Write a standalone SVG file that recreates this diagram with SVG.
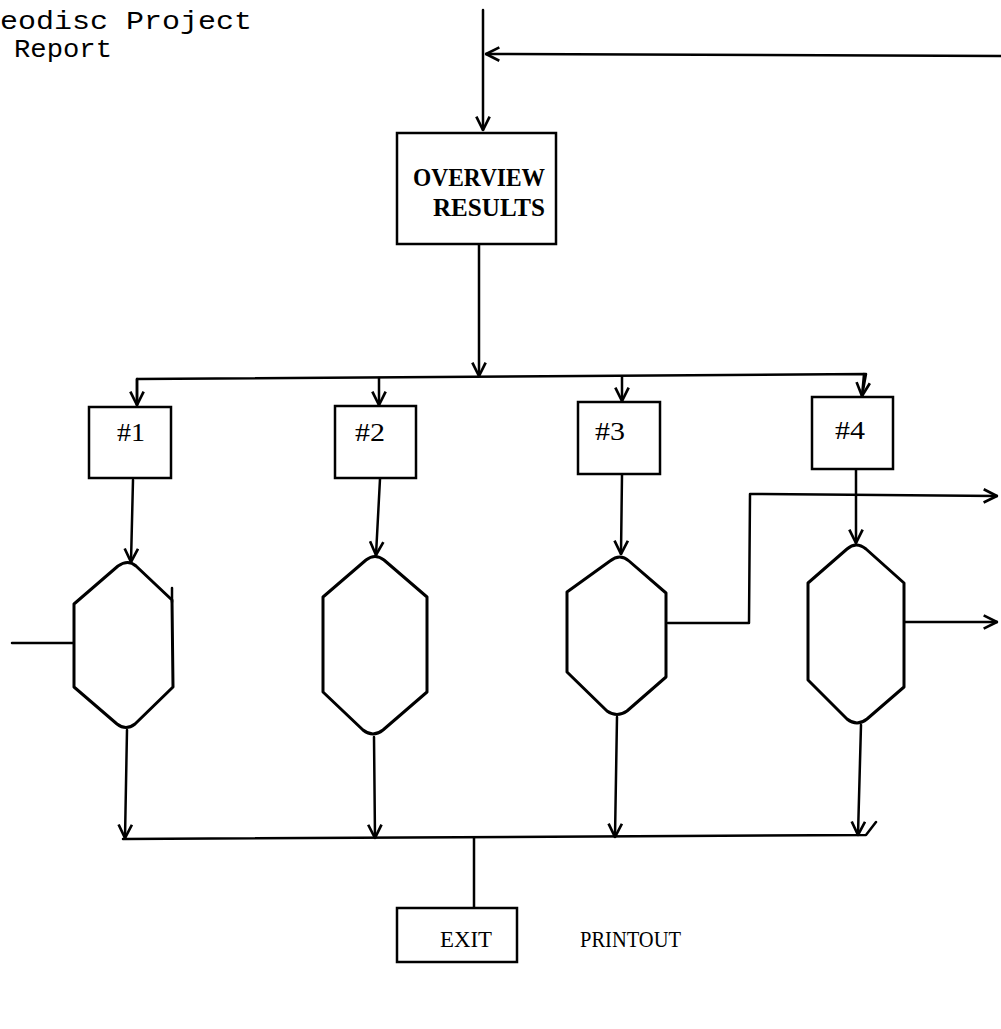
<svg xmlns="http://www.w3.org/2000/svg" width="1001" height="1029" viewBox="0 0 1001 1029">
<style>
.ln{fill:none;stroke:#000;stroke-width:2.5;stroke-linejoin:round;stroke-linecap:round}
.box{fill:#fff;stroke:#000;stroke-width:2.5}
.hex{fill:#fff;stroke:#000;stroke-width:3;stroke-linejoin:round}
.lbl{font-family:"Liberation Serif",serif;font-size:26px;fill:#000}
.small{font-family:"Liberation Serif",serif;font-size:23px;fill:#000}
.bold{font-family:"Liberation Serif",serif;font-size:25px;font-weight:bold;fill:#000}
.mono{font-family:"Liberation Mono",monospace;font-size:26px;fill:#000}
</style>
<defs>
<marker id="arr" viewBox="0 0 12 12" refX="11" refY="6" markerWidth="16" markerHeight="16" markerUnits="userSpaceOnUse" orient="auto">
<path d="M1,1 L11,6 L1,11" fill="none" stroke="#000" stroke-width="2"/>
</marker>
</defs>
<g id="title">
<text class="mono" x="0" y="29" textLength="252" lengthAdjust="spacingAndGlyphs">eodisc Project</text>
<text class="mono" x="14" y="57" textLength="98" lengthAdjust="spacingAndGlyphs">Report</text>
</g>
<g id="connectors">
<line class="ln" x1="483" y1="10" x2="483" y2="130" marker-end="url(#arr)"/>
<line class="ln" x1="1001" y1="56" x2="486" y2="54" marker-end="url(#arr)"/>
<line class="ln" x1="479" y1="244" x2="479" y2="376" marker-end="url(#arr)"/>
<polyline class="ln" points="137,405 137,379 866,374 862,396"/>
<line class="ln" x1="137" y1="379" x2="137" y2="405" marker-end="url(#arr)"/>
<line class="ln" x1="379" y1="378" x2="379" y2="405" marker-end="url(#arr)"/>
<line class="ln" x1="622" y1="377" x2="622" y2="401" marker-end="url(#arr)"/>
<line class="ln" x1="864" y1="374" x2="862" y2="396" marker-end="url(#arr)"/>
<line class="ln" x1="133" y1="480" x2="131" y2="562" marker-end="url(#arr)"/>
<line class="ln" x1="380" y1="479" x2="376" y2="555" marker-end="url(#arr)"/>
<line class="ln" x1="622" y1="475" x2="621" y2="554" marker-end="url(#arr)"/>
<line class="ln" x1="856" y1="470" x2="856" y2="543" marker-end="url(#arr)"/>
<line class="ln" x1="12" y1="643" x2="74" y2="643"/>
<polyline class="ln" points="668,623 749,623 750,494 997,496" marker-end="url(#arr)"/>
<line class="ln" x1="904" y1="622" x2="997" y2="622" marker-end="url(#arr)"/>
<line class="ln" x1="127" y1="730" x2="125" y2="838" marker-end="url(#arr)"/>
<line class="ln" x1="374" y1="737" x2="375" y2="838" marker-end="url(#arr)"/>
<line class="ln" x1="617" y1="717" x2="615" y2="837" marker-end="url(#arr)"/>
<line class="ln" x1="861" y1="725" x2="858" y2="835" marker-end="url(#arr)"/>
<polyline class="ln" points="123,839 866,835 876,822"/>
<line class="ln" x1="474" y1="838" x2="474" y2="908"/>
</g>
<g id="overview">
<rect class="box" x="397" y="133" width="159" height="111"/>
<text class="bold" x="413" y="186" textLength="132" lengthAdjust="spacingAndGlyphs">OVERVIEW</text>
<text class="bold" x="433" y="216" textLength="112" lengthAdjust="spacingAndGlyphs">RESULTS</text>
</g>
<g id="n1">
<rect class="box" x="89" y="407" width="82" height="71"/>
<text class="lbl" x="117" y="441" textLength="28" lengthAdjust="spacingAndGlyphs">#1</text>
</g>
<g id="n2">
<rect class="box" x="335" y="406" width="81" height="72"/>
<text class="lbl" x="355" y="441" textLength="30" lengthAdjust="spacingAndGlyphs">#2</text>
</g>
<g id="n3">
<rect class="box" x="578" y="402" width="82" height="72"/>
<text class="lbl" x="595" y="440" textLength="30" lengthAdjust="spacingAndGlyphs">#3</text>
</g>
<g id="n4">
<rect class="box" x="812" y="397" width="81" height="72"/>
<text class="lbl" x="835" y="439" textLength="30" lengthAdjust="spacingAndGlyphs">#4</text>
</g>
<g id="h1">
<path class="hex" d="M74,604 L118,566 Q128,559 136,566 L172,600 L173,687 L135,724 Q126,731 117,724 L74,687 Z"/>
<line class="ln" x1="172" y1="588" x2="172" y2="602"/>
</g>
<g id="h2">
<path class="hex" d="M323,597 L366,560 Q375,553 384,560 L427,597 L427,692 L383,730 Q373,738 363,730 L323,692 Z"/>
</g>
<g id="h3">
<path class="hex" d="M567,592 L610,561 Q620,553 629,561 L666,593 L666,677 L627,711 Q617,718 607,711 L567,672 Z"/>
</g>
<g id="h4">
<path class="hex" d="M808,583 L847,549 Q856,541 866,549 L904,583 L904,687 L867,719 Q857,727 847,719 L808,680 Z"/>
</g>
<g id="exit">
<rect class="box" x="397" y="908" width="120" height="54"/>
<text class="small" x="440" y="947" textLength="52" lengthAdjust="spacingAndGlyphs">EXIT</text>
</g>
<g id="printout">
<text class="small" x="580" y="947" textLength="101" lengthAdjust="spacingAndGlyphs">PRINTOUT</text>
</g>
</svg>
